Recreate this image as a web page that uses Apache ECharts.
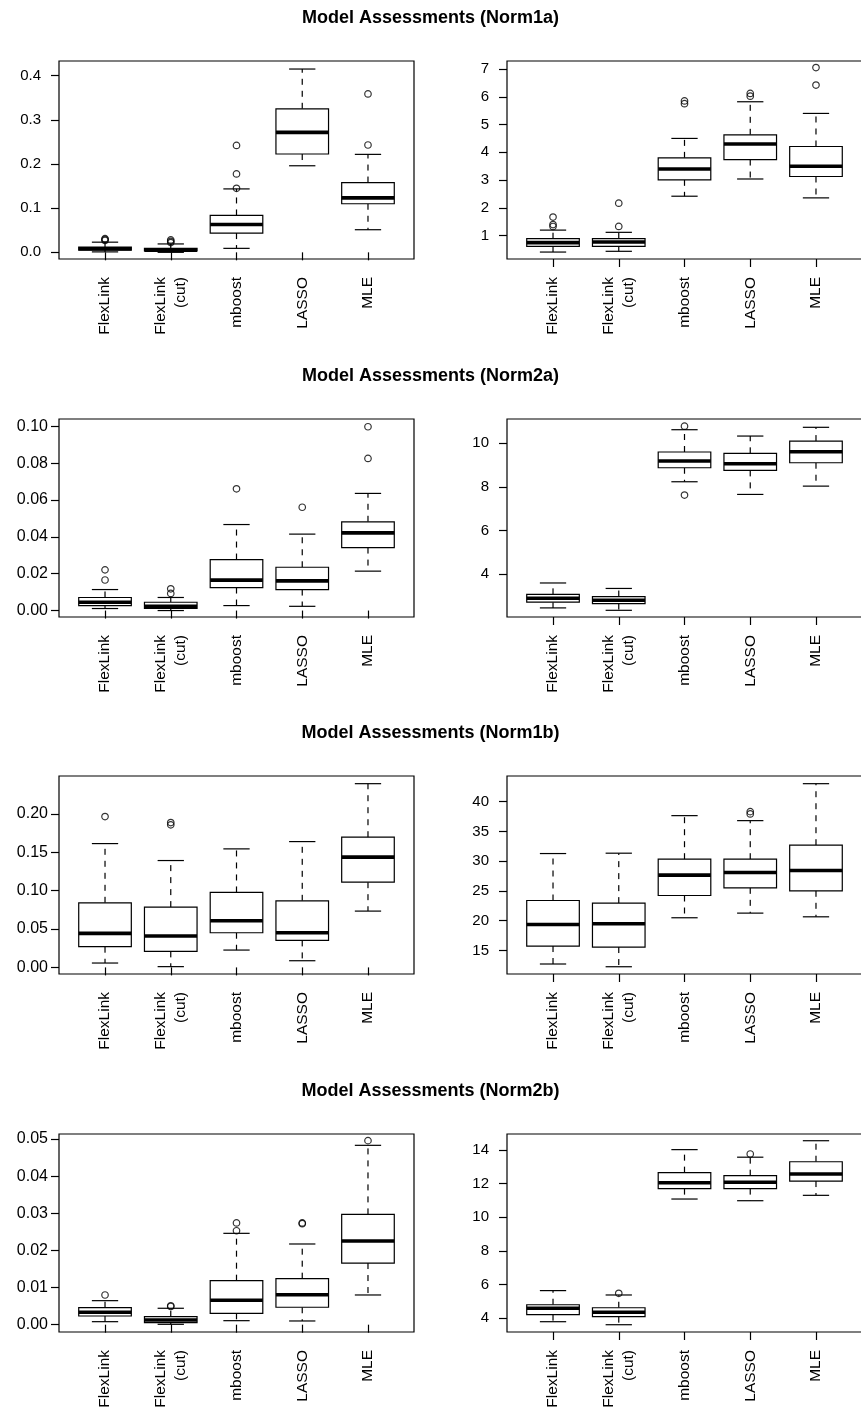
<!DOCTYPE html>
<html>
<head>
<meta charset="utf-8">
<script src="https://cdn.jsdelivr.net/npm/echarts@6/dist/echarts.min.js"></script>
<style>
html,body{margin:0;padding:0;background:#fff;}
#chart{width:861px;height:1414px;}
</style>
</head>
<body>
<div id="chart"></div>
<script>
// ---------------- DATA ----------------
const categories = ['FlexLink', 'FlexLink\n(cut)', 'mboost', 'LASSO', 'MLE'];
const panelTitles = [
  'Model Assessments (Norm1a)',
  'Model Assessments (Norm2a)',
  'Model Assessments (Norm1b)',
  'Model Assessments (Norm2b)'
];

// box stats per category: [min, Q1, median, Q3, max]
// outliers: [categoryNumber (1..5), value]

// Norm1a - left
const norm1aLeftStats = [
  [0.001, 0.005, 0.008, 0.012, 0.023],
  [0.000, 0.003, 0.005, 0.009, 0.019],
  [0.009, 0.0436, 0.063, 0.0835, 0.1436],
  [0.196, 0.2226, 0.2715, 0.325, 0.415],
  [0.0512, 0.110, 0.1233, 0.158, 0.2218]
];
const norm1aLeftOutliers = [[1, 0.027], [1, 0.029], [1, 0.031], [2, 0.022], [2, 0.025], [2, 0.028],
  [3, 0.145], [3, 0.1775], [3, 0.242], [5, 0.243], [5, 0.3587]];
const norm1aLeftTicks = [0, 0.1, 0.2, 0.3, 0.4];
const norm1aLeftTickLabels = ['0.0', '0.1', '0.2', '0.3', '0.4'];
const norm1aLeftRange = [-0.0151, 0.4332];

// Norm1a - right
const norm1aRightStats = [
  [0.41, 0.616, 0.75, 0.89, 1.20],
  [0.437, 0.616, 0.77, 0.89, 1.12],
  [2.42, 3.01, 3.40, 3.80, 4.50],
  [3.04, 3.74, 4.30, 4.63, 5.82],
  [2.36, 3.13, 3.50, 4.21, 5.40]
];
const norm1aRightOutliers = [[1, 1.33], [1, 1.40], [1, 1.67], [2, 1.333], [2, 2.17],
  [3, 5.75], [3, 5.85], [4, 6.02], [4, 6.12], [5, 6.42], [5, 7.05]];
const norm1aRightTicks = [1, 2, 3, 4, 5, 6, 7];
const norm1aRightTickLabels = ['1', '2', '3', '4', '5', '6', '7'];
const norm1aRightRange = [0.16, 7.287];

// Norm2a - left
const norm2aLeftStats = [
  [0.0011, 0.0027, 0.0045, 0.0071, 0.0114],
  [0.0000, 0.0012, 0.0023, 0.0045, 0.0071],
  [0.0027, 0.0125, 0.0165, 0.0277, 0.0467],
  [0.0023, 0.0114, 0.0161, 0.0235, 0.0415],
  [0.0214, 0.0342, 0.0422, 0.0482, 0.0636]
];
const norm2aLeftOutliers = [[1, 0.0166], [1, 0.0221], [2, 0.0093], [2, 0.0118],
  [3, 0.0661], [4, 0.0561], [5, 0.0826], [5, 0.0998]];
const norm2aLeftTicks = [0, 0.02, 0.04, 0.06, 0.08, 0.10];
const norm2aLeftTickLabels = ['0.00', '0.02', '0.04', '0.06', '0.08', '0.10'];
const norm2aLeftRange = [-0.0035, 0.104];

// Norm2a - right
const norm2aRightStats = [
  [2.46, 2.72, 2.90, 3.08, 3.60],
  [2.35, 2.66, 2.81, 2.98, 3.35],
  [8.23, 8.87, 9.18, 9.59, 10.61],
  [7.65, 8.75, 9.05, 9.53, 10.32],
  [8.03, 9.10, 9.60, 10.09, 10.72]
];
const norm2aRightOutliers = [[3, 10.77], [3, 7.62]];
const norm2aRightTicks = [4, 6, 8, 10];
const norm2aRightTickLabels = ['4', '6', '8', '10'];
const norm2aRightRange = [2.044, 11.10];

// Norm1b - left
const norm1bLeftStats = [
  [0.0057, 0.0270, 0.0443, 0.0842, 0.1614],
  [0.0010, 0.0209, 0.0409, 0.0786, 0.1393],
  [0.0226, 0.0452, 0.0608, 0.0977, 0.1545],
  [0.0087, 0.0352, 0.0452, 0.0868, 0.1640],
  [0.0734, 0.1111, 0.1437, 0.1697, 0.2395]
];
const norm1bLeftOutliers = [[1, 0.1966], [2, 0.1888], [2, 0.1858]];
const norm1bLeftTicks = [0, 0.05, 0.10, 0.15, 0.20];
const norm1bLeftTickLabels = ['0.00', '0.05', '0.10', '0.15', '0.20'];
const norm1bLeftRange = [-0.0086, 0.2495];

// Norm1b - right
const norm1bRightStats = [
  [12.72, 15.74, 19.36, 23.39, 31.28],
  [12.26, 15.57, 19.48, 22.95, 31.34],
  [20.49, 24.23, 27.65, 30.33, 37.65],
  [21.27, 25.52, 28.09, 30.33, 36.81],
  [20.65, 25.02, 28.42, 32.68, 43.02]
];
const norm1bRightOutliers = [[4, 38.32], [4, 37.93]];
const norm1bRightTicks = [15, 20, 25, 30, 35, 40];
const norm1bRightTickLabels = ['15', '20', '25', '30', '35', '40'];
const norm1bRightRange = [11.04, 44.31];

// Norm2b - left
const norm2bLeftStats = [
  [0.00081, 0.00234, 0.00334, 0.00458, 0.00647],
  [0.00010, 0.00054, 0.00127, 0.00215, 0.00442],
  [0.00108, 0.00307, 0.00657, 0.01185, 0.0246],
  [0.00100, 0.00469, 0.00808, 0.01239, 0.02173],
  [0.00800, 0.0166, 0.02254, 0.0297, 0.0483]
];
const norm2bLeftOutliers = [[1, 0.0080], [2, 0.0049], [2, 0.0051], [3, 0.0253], [3, 0.0274],
  [4, 0.0272], [4, 0.0274], [5, 0.04956]];
const norm2bLeftTicks = [0, 0.01, 0.02, 0.03, 0.04, 0.05];
const norm2bLeftTickLabels = ['0.00', '0.01', '0.02', '0.03', '0.04', '0.05'];
const norm2bLeftRange = [-0.00197, 0.05135];

// Norm2b - right
const norm2bRightStats = [
  [3.78, 4.20, 4.58, 4.79, 5.63],
  [3.60, 4.08, 4.34, 4.61, 5.37],
  [11.08, 11.70, 12.05, 12.65, 14.02],
  [10.98, 11.70, 12.08, 12.47, 13.57],
  [11.30, 12.15, 12.57, 13.30, 14.55]
];
const norm2bRightOutliers = [[2, 5.47], [4, 13.76]];
const norm2bRightTicks = [4, 6, 8, 10, 12, 14];
const norm2bRightTickLabels = ['4', '6', '8', '10', '12', '14'];
const norm2bRightRange = [3.167, 14.95];

// ---------------- LAYOUT ----------------
const panels = [
  {row: 0, col: 0, stats: norm1aLeftStats, out: norm1aLeftOutliers, ticks: norm1aLeftTicks, labels: norm1aLeftTickLabels, range: norm1aLeftRange},
  {row: 0, col: 1, stats: norm1aRightStats, out: norm1aRightOutliers, ticks: norm1aRightTicks, labels: norm1aRightTickLabels, range: norm1aRightRange},
  {row: 1, col: 0, stats: norm2aLeftStats, out: norm2aLeftOutliers, ticks: norm2aLeftTicks, labels: norm2aLeftTickLabels, range: norm2aLeftRange},
  {row: 1, col: 1, stats: norm2aRightStats, out: norm2aRightOutliers, ticks: norm2aRightTicks, labels: norm2aRightTickLabels, range: norm2aRightRange},
  {row: 2, col: 0, stats: norm1bLeftStats, out: norm1bLeftOutliers, ticks: norm1bLeftTicks, labels: norm1bLeftTickLabels, range: norm1bLeftRange},
  {row: 2, col: 1, stats: norm1bRightStats, out: norm1bRightOutliers, ticks: norm1bRightTicks, labels: norm1bRightTickLabels, range: norm1bRightRange},
  {row: 3, col: 0, stats: norm2bLeftStats, out: norm2bLeftOutliers, ticks: norm2bLeftTicks, labels: norm2bLeftTickLabels, range: norm2bLeftRange},
  {row: 3, col: 1, stats: norm2bRightStats, out: norm2bRightOutliers, ticks: norm2bRightTicks, labels: norm2bRightTickLabels, range: norm2bRightRange}
];

const rowTops = [61, 419, 776, 1134];
const titleTops = [9, 367, 724, 1082];
const colLefts = [59, 507];
const gridW = 355, gridH = 198;
const FONT = 'Liberation Sans, Arial, Helvetica, sans-serif';
const LW = 1.2;

function renderBox(params, api) {
  const x = api.value(0);
  const pMin = api.coord([x, api.value(1)]);
  const pQ1 = api.coord([x, api.value(2)]);
  const pMed = api.coord([x, api.value(3)]);
  const pQ3 = api.coord([x, api.value(4)]);
  const pMax = api.coord([x, api.value(5)]);
  const bw = api.size([0.8, 0])[0];
  const cx = pMed[0];
  const hw = bw / 2, sw = bw / 4;
  const ln = {stroke: '#000', lineWidth: LW};
  const dash = {stroke: '#000', lineWidth: LW, lineDash: [6, 6]};
  return {
    type: 'group',
    children: [
      {type: 'line', shape: {x1: cx, y1: pQ3[1], x2: cx, y2: pMax[1]}, style: dash},
      {type: 'line', shape: {x1: cx, y1: pQ1[1], x2: cx, y2: pMin[1]}, style: dash},
      {type: 'line', shape: {x1: cx - sw, y1: pMax[1], x2: cx + sw, y2: pMax[1]}, style: ln},
      {type: 'line', shape: {x1: cx - sw, y1: pMin[1], x2: cx + sw, y2: pMin[1]}, style: ln},
      {type: 'rect', shape: {x: cx - hw, y: pQ3[1], width: bw, height: pQ1[1] - pQ3[1]},
        style: {fill: '#fff', stroke: '#000', lineWidth: LW}},
      {type: 'line', shape: {x1: cx - hw, y1: pMed[1], x2: cx + hw, y2: pMed[1]},
        style: {stroke: '#000', lineWidth: 3.6}}
    ]
  };
}

const grid = [], xAxis = [], yAxis = [], series = [];
const xTickVals = categories.map((c, i) => i + 1);

panels.forEach((p, i) => {
  const wideLeft = p.col === 0 && p.row > 0;
  grid.push({
    left: colLefts[p.col], top: rowTops[p.row], width: gridW, height: gridH,
    show: true, borderColor: '#000', borderWidth: LW, backgroundColor: 'transparent',
    containLabel: false, outerBoundsMode: 'none'
  });
  xAxis.push({
    gridIndex: i, type: 'value', min: 0.3, max: 5.7,
    axisLine: {show: false}, splitLine: {show: false},
    axisTick: {show: true, length: 8, customValues: xTickVals, lineStyle: {color: '#000', width: LW}},
    axisLabel: {
      customValues: xTickVals, rotate: 90, margin: 18,
      formatter: v => categories[Math.round(v) - 1],
      color: '#000', fontSize: 15.5, fontFamily: FONT, lineHeight: 20
    }
  });
  yAxis.push({
    gridIndex: i, type: 'value', min: p.range[0], max: p.range[1],
    axisLine: {show: false}, splitLine: {show: false},
    axisTick: {show: true, length: 8, customValues: p.ticks, lineStyle: {color: '#000', width: LW}},
    axisLabel: {
      customValues: p.ticks, margin: wideLeft ? 11 : 18,
      formatter: v => {
        let k = 0, best = Infinity;
        p.ticks.forEach((t, j) => { const d = Math.abs(t - v); if (d < best) { best = d; k = j; } });
        return p.labels[k];
      },
      color: '#000', fontSize: wideLeft ? 16 : 15, fontFamily: FONT
    }
  });
  series.push({
    type: 'custom', xAxisIndex: i, yAxisIndex: i,
    data: p.stats.map((s, k) => [k + 1].concat(s)),
    encode: {x: 0, y: [1, 2, 3, 4, 5]},
    renderItem: renderBox, silent: true, clip: false, z: 2
  });
  series.push({
    type: 'scatter', xAxisIndex: i, yAxisIndex: i,
    data: p.out, symbol: 'circle', symbolSize: 6.5,
    itemStyle: {color: 'rgba(0,0,0,0)', borderColor: '#000', borderWidth: LW},
    silent: true, z: 3
  });
});

const chart = echarts.init(document.getElementById('chart'), null, {renderer: 'canvas'});
chart.setOption({
  backgroundColor: '#fff',
  animation: false,
  title: panelTitles.map((t, r) => ({
    text: t, left: 'center', top: titleTops[r], padding: 0,
    textStyle: {fontSize: 18, fontWeight: 'bold', color: '#000', fontFamily: FONT}
  })),
  grid: grid,
  xAxis: xAxis,
  yAxis: yAxis,
  series: series
});
</script>
</body>
</html>
